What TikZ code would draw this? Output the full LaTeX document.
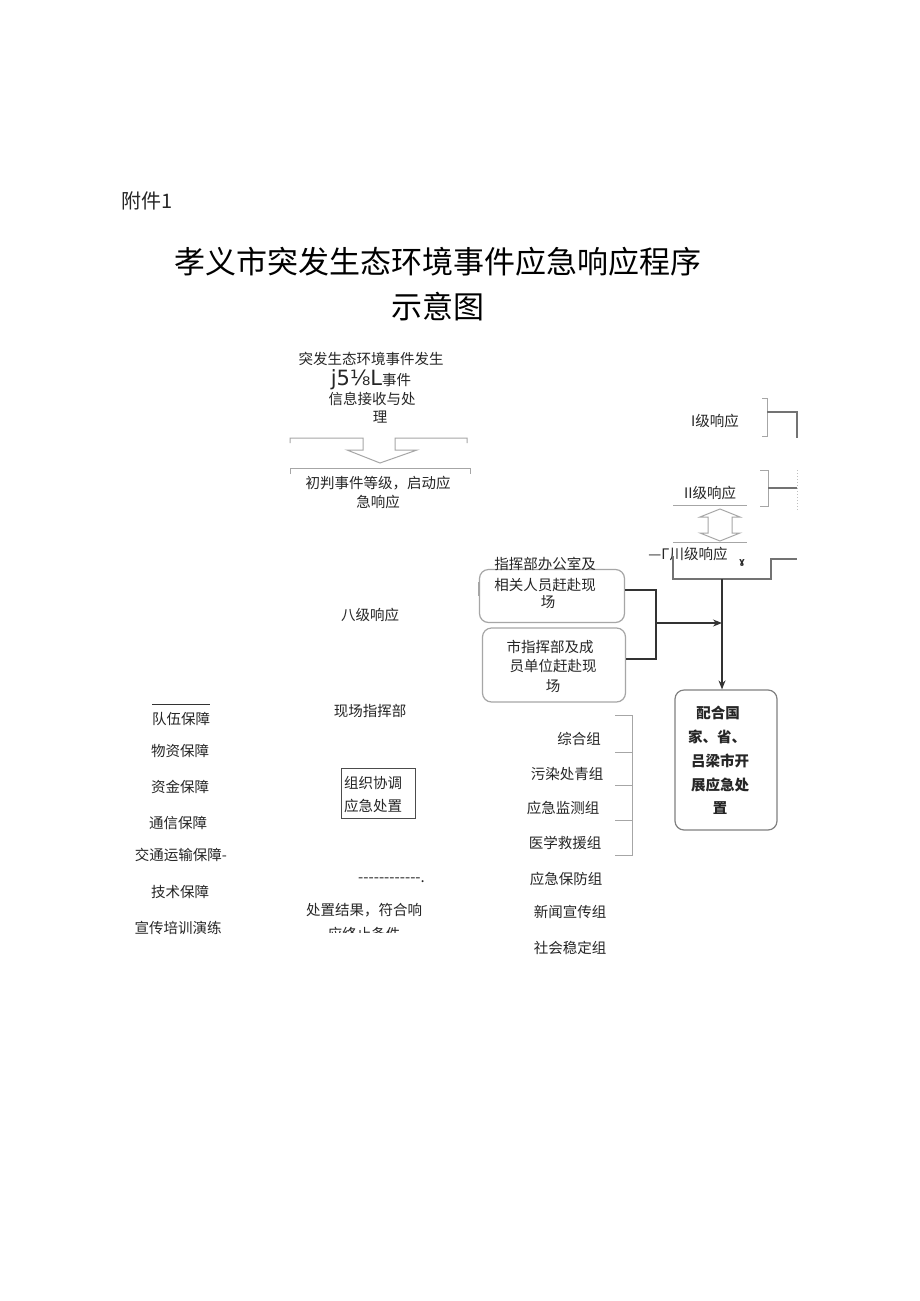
\documentclass[tikz,border=0pt]{standalone}
\usepackage{fontspec}
\newfontfamily\cjk{Noto Sans CJK SC}
\newfontfamily\dvs{DejaVu Sans}
\usetikzlibrary{arrows.meta}
\begin{document}
\begin{tikzpicture}[x=1pt,y=-1pt,
  txt/.style={font=\cjk\fontsize{14.5}{17}\selectfont, inner sep=0pt, text=black!85},
  ttl/.style={font=\cjk\fontsize{31}{36}\selectfont, inner sep=0pt},
  lgray/.style={draw=black!35, line width=1pt},
  mgray/.style={draw=black!55, line width=1.3pt},
  dline/.style={draw=black!80, line width=1.3pt},
  arr/.style={dline, -{Stealth[length=9pt,width=7pt]}},
  rbox/.style={draw=black!35, line width=1.2pt, rounded corners=9pt}
]
\useasboundingbox (0,0) rectangle (920,1301);
\fill[white] (0,0) rectangle (920,1301);

% header and title
\node[txt, font=\cjk\fontsize{20}{24}\selectfont, anchor=west] (fj) at (121,201) {附件1};
\node[ttl] (t1) at (438,262) {孝义市突发生态环境事件应急响应程序};
\node[ttl] (t2) at (438,307) {示意图};

% top block
\node[txt] (a1) at (371,359) {突发生态环境事件发生};
\node[txt] (a2) at (371,380) {{\dvs\fontsize{21}{22}\selectfont j5⅛L}事件};
\node[txt] (a3) at (372,399) {信息接收与处};
\node[txt] (a4) at (380,417) {理};

% hollow down arrow
\draw[lgray] (290,443) -- (290,438) -- (363,438) -- (363,450) -- (347,450) -- (380,463) -- (417,450) -- (395,450) -- (395,438) -- (467,438) -- (467,443);
\draw[lgray] (290,474) -- (290,468) -- (470,468) -- (470,474);

\node[txt] (b1) at (378,483) {初判事件等级，启动应};
\node[txt] (b2) at (378,502) {急响应};

\node[txt] (c8) at (370,615) {八级响应};

% response levels on right
\node[txt] (r1) at (715,421) {I级响应};
\draw[lgray] (762,398) -- (767,398) -- (767,436) -- (762,436);
\coordinate (r1e) at (797,438);
\draw[mgray] (767,412) -- (797,412) -- (r1e);

\node[txt] (r2) at (710,493) {II级响应};
\draw[lgray] (760,470) -- (768,470) -- (768,506) -- (760,506);
\draw[mgray] (768,488) -- (797,488);
\draw[draw=black!25, dotted, line width=1pt] (797,470) -- (797,510);

% double hollow arrow between II and III
\draw[lgray] (673,505) -- (747,505);
\draw[lgray] (673,542) -- (747,542);
\draw[lgray] (720,509) -- (700,517) -- (708,517) -- (708,533) -- (700,533) -- (720,541) -- (740,533) -- (732,533) -- (732,517) -- (740,517) -- cycle;

\node[txt] (r3) at (688,554) {—Γ川级响应};
\node[txt, font=\dvs\bfseries\fontsize{9}{10}\selectfont] (yy) at (742,563) {ɣ};
\coordinate (r3b) at (722,579);
\draw[mgray] (673,556) -- (673,579) -- (771,579) -- (771,559) -- (797,559);

% left boxes
\node[rbox, minimum width=145pt, minimum height=53pt] (box1) at (552,596) {};
\node[txt] (box1a) at (545,564) {指挥部办公室及};
\node[txt] (box1b) at (545,585) {相关人员赶赴现};
\node[txt] (box1c) at (548,602) {场};
\draw[lgray] (478,582) -- (478,596);

\node[rbox, minimum width=143pt, minimum height=74pt] (box2) at (554,665) {};
\node[txt] (box2a) at (550,647) {市指挥部及成};
\node[txt] (box2b) at (553,666) {员单位赶赴现};
\node[txt] (box2c) at (553,686) {场};

\coordinate (j1) at (656,590);
\coordinate (j2) at (656,659);
\coordinate (jm) at (656,623);
\coordinate (vm) at (722,623);
\draw[dline] (box1.east |- j1) -- (j1) -- (j2) -- (box2.east |- j2);
\draw[arr] (jm) -- (vm);

% right box
\node[rbox, draw=black!50, minimum width=102pt, minimum height=140pt] (rb) at (726,760) {};
\node[txt, font=\cjk\bfseries\fontsize{14.5}{17}\selectfont] (rb1) at (718,713) {配合国};
\node[txt, font=\cjk\bfseries\fontsize{14.5}{17}\selectfont] (rb2) at (717,737) {家、省、};
\node[txt, font=\cjk\bfseries\fontsize{14.5}{17}\selectfont] (rb3) at (720,761) {吕梁市开};
\node[txt, font=\cjk\bfseries\fontsize{14.5}{17}\selectfont] (rb4) at (720,785) {展应急处};
\node[txt, font=\cjk\bfseries\fontsize{14.5}{17}\selectfont] (rb5) at (720,808) {置};
\draw[arr] (r3b) -- (rb.north -| r3b);

% left column
\draw[black!80, line width=0.8pt] (152,704) -- (210,704);
\node[txt] (s1) at (181,719) {队伍保障};
\node[txt] (s2) at (180,751) {物资保障};
\node[txt] (s3) at (180,787) {资金保障};
\node[txt] (s4) at (178,823) {通信保障};
\node[txt] (s5) at (181,855) {交通运输保障-};
\node[txt] (s6) at (180,892) {技术保障};
\node[txt] (s7) at (178,928) {宣传培训演练};

% middle column
\node[txt] (m1) at (370,711) {现场指挥部};
\node[draw=black!70, line width=0.8pt, minimum width=74pt, minimum height=50pt, inner sep=0pt] (m2) at (378,793) {};
\node[txt, anchor=west] (m2a) at (344,783) {组织协调};
\node[txt, anchor=west] (m2b) at (344,806) {应急处置};
\node[txt, font=\cjk\fontsize{15}{17}\selectfont, anchor=west] (m3) at (358,880) {------------.};
\node[txt] (m4) at (364,910) {处置结果，符合响};
\begin{scope}
\clip (290,920) rectangle (450,932);
\node[txt] (m5) at (364,934) {应终止条件};
\end{scope}

% groups
\node[txt] (g1) at (579,739) {综合组};
\node[txt] (g2) at (567,774) {污染处青组};
\node[txt] (g3) at (563,808) {应急监测组};
\node[txt] (g4) at (565,843) {医学救援组};
\node[txt] (g5) at (566,879) {应急保防组};
\node[txt] (g6) at (570,912) {新闻宣传组};
\node[txt] (g7) at (570,948) {社会稳定组};
\draw[lgray] (615,715) -- (632,715) -- (632,855) -- (615,855);
\draw[lgray] (615,752) -- (632,752);
\draw[lgray] (615,785) -- (632,785);
\draw[lgray] (615,820) -- (632,820);
\end{tikzpicture}
\end{document}
